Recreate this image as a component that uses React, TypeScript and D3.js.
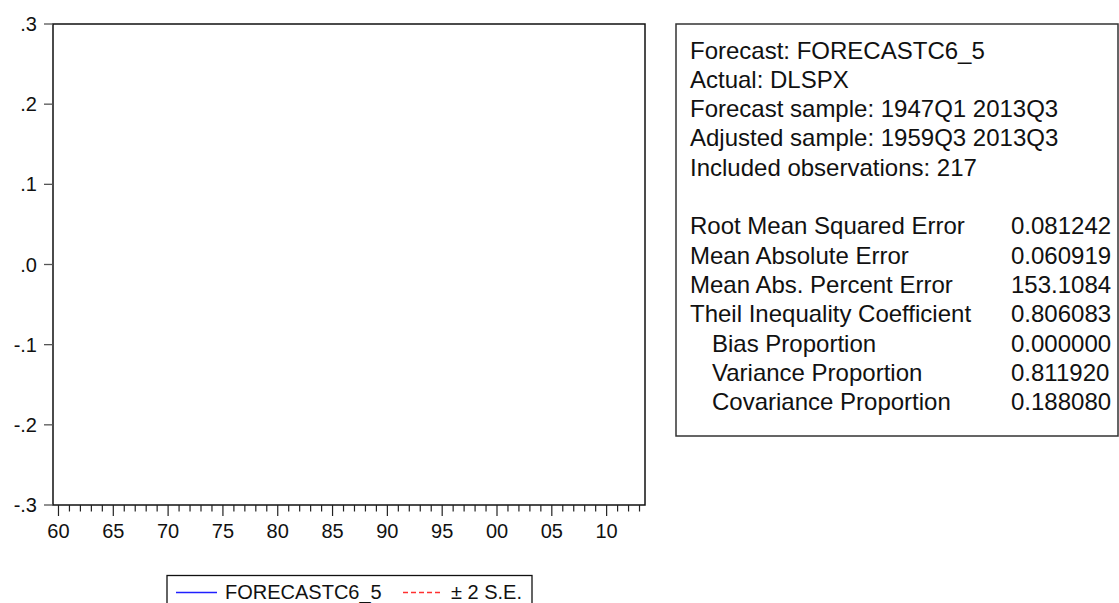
import React from "react";
import * as d3 from "d3";

// ---- data ----
const yTickValues = [0.3, 0.2, 0.1, 0.0, -0.1, -0.2, -0.3];
const xMajorYears = [1960, 1965, 1970, 1975, 1980, 1985, 1990, 1995, 2000, 2005, 2010];
const xMinorYears = d3.range(1960, 2014);
const sampleStart = 1959.5; // 1959Q3
const sampleEnd = 2013.5; // 2013Q3

// forecast series and bands (no values are visible inside the plotted range)
const forecastSeries: { t: number; v: number }[] = [];
const upperBand: { t: number; v: number }[] = [];
const lowerBand: { t: number; v: number }[] = [];

const legendNames = ["FORECASTC6_5", "± 2 S.E."];

const headerLines = [
  "Forecast: FORECASTC6_5",
  "Actual: DLSPX",
  "Forecast sample: 1947Q1 2013Q3",
  "Adjusted sample: 1959Q3 2013Q3",
  "Included observations: 217",
];
const statLabels = [
  "Root Mean Squared Error",
  "Mean Absolute Error",
  "Mean Abs. Percent Error",
  "Theil Inequality Coefficient",
  "Bias Proportion",
  "Variance Proportion",
  "Covariance Proportion",
];
const statValues = ["0.081242", "0.060919", "153.1084", "0.806083", "0.000000", "0.811920", "0.188080"];
const statIndented = [false, false, false, false, true, true, true];

const FONT = "'Liberation Sans', Arial, sans-serif";

export default function App() {
  const W = 1119;
  const H = 603;
  const left = 53, right = 645, top = 24, bottom = 505;

  const x = d3.scaleLinear().domain([sampleStart, sampleEnd]).range([left, right]);
  const y = d3.scaleLinear().domain([-0.3, 0.3]).range([bottom, top]);

  const fmtY = (v: number) => d3.format(".1f")(v).replace("\u2212", "-").replace("0.", ".");
  const fmtX = (yr: number) => String(yr % 100).padStart(2, "0");

  const line = d3
    .line<{ t: number; v: number }>()
    .x((d) => x(d.t))
    .y((d) => y(d.v));

  // text panel
  const boxL = 676, boxT = 24, boxB = 436, boxR = 1118;
  const textX = 690;
  const indent = 22;
  const valX = 1011;
  const row0 = 50;
  const rowH = 29.3;
  const fs = 24;
  const base = (c: number, f: number) => c + f * 0.358;

  const rows: { label: string; value?: string; ind?: boolean }[] = [
    ...headerLines.map((l) => ({ label: l })),
    { label: "" },
    ...statLabels.map((l, i) => ({ label: l, value: statValues[i], ind: statIndented[i] })),
  ];

  // legend
  const legT = 575.5, legL = 167, legR = 532;
  const legY = 591.5;

  return (
    <svg
      width={W}
      height={H}
      style={{ position: "absolute", left: 0, top: 0, background: "#fff" }}
      fontFamily={FONT}
    >
      <rect x={0} y={0} width={W} height={H} fill="#fff" />
      {/* plot area */}
      <g clipPath="url(#clip)">
        <clipPath id="clip">
          <rect x={left} y={top} width={right - left} height={bottom - top} />
        </clipPath>
        {upperBand.length > 0 && (
          <path d={line(upperBand) || ""} fill="none" stroke="#ff3030" strokeDasharray="5,3" />
        )}
        {lowerBand.length > 0 && (
          <path d={line(lowerBand) || ""} fill="none" stroke="#ff3030" strokeDasharray="5,3" />
        )}
        {forecastSeries.length > 0 && (
          <path d={line(forecastSeries) || ""} fill="none" stroke="#2020ff" />
        )}
      </g>
      <rect x={left} y={top} width={right - left} height={bottom - top} fill="none" stroke="#111" strokeWidth={1.5} />

      {/* y axis */}
      {yTickValues.map((v) => (
        <g key={"y" + v}>
          <line x1={left - 9} x2={left} y1={y(v)} y2={y(v)} stroke="#555" strokeWidth={1.3} />
          <text x={37} y={base(y(v), 20)} fontSize={20} textAnchor="end" fill="#111">
            {fmtY(v)}
          </text>
        </g>
      ))}

      {/* x axis */}
      {xMinorYears.map((yr) => {
        const major = yr % 5 === 0;
        return (
          <line
            key={"xt" + yr}
            x1={x(yr)}
            x2={x(yr)}
            y1={bottom}
            y2={bottom + (major ? 11 : 6.5)}
            stroke="#222"
            strokeWidth={1.2}
          />
        );
      })}
      {xMajorYears.map((yr) => (
        <text key={"xl" + yr} x={x(yr)} y={base(531, 20)} fontSize={20} textAnchor="middle" fill="#111">
          {fmtX(yr)}
        </text>
      ))}

      {/* legend */}
      <rect x={legL} y={legT} width={legR - legL} height={H - legT + 5} fill="#fff" stroke="#111" strokeWidth={1.3} />
      <line x1={176} x2={217} y1={legY + 1} y2={legY + 1} stroke="#2020ff" strokeWidth={1.3} />
      <text x={225} y={base(legY, 20)} fontSize={20} fill="#111">
        {legendNames[0]}
      </text>
      <line x1={403} x2={443} y1={legY + 1} y2={legY + 1} stroke="#ff3030" strokeWidth={1.3} strokeDasharray="5,3" />
      <text x={451} y={base(legY, 20)} fontSize={20} fill="#111">
        {legendNames[1]}
      </text>

      {/* statistics panel */}
      <rect x={boxL} y={boxT} width={boxR - boxL} height={boxB - boxT} fill="#fff" stroke="#333" strokeWidth={1.5} />
      {rows.map((r, i) => {
        const cy = row0 + i * rowH;
        return (
          <g key={"r" + i}>
            {r.label && (
              <text x={textX + (r.ind ? indent : 0)} y={base(cy, fs)} fontSize={fs} fill="#111">
                {r.label}
              </text>
            )}
            {r.value && (
              <text x={valX} y={base(cy, fs)} fontSize={fs} fill="#111">
                {r.value}
              </text>
            )}
          </g>
        );
      })}
    </svg>
  );
}
